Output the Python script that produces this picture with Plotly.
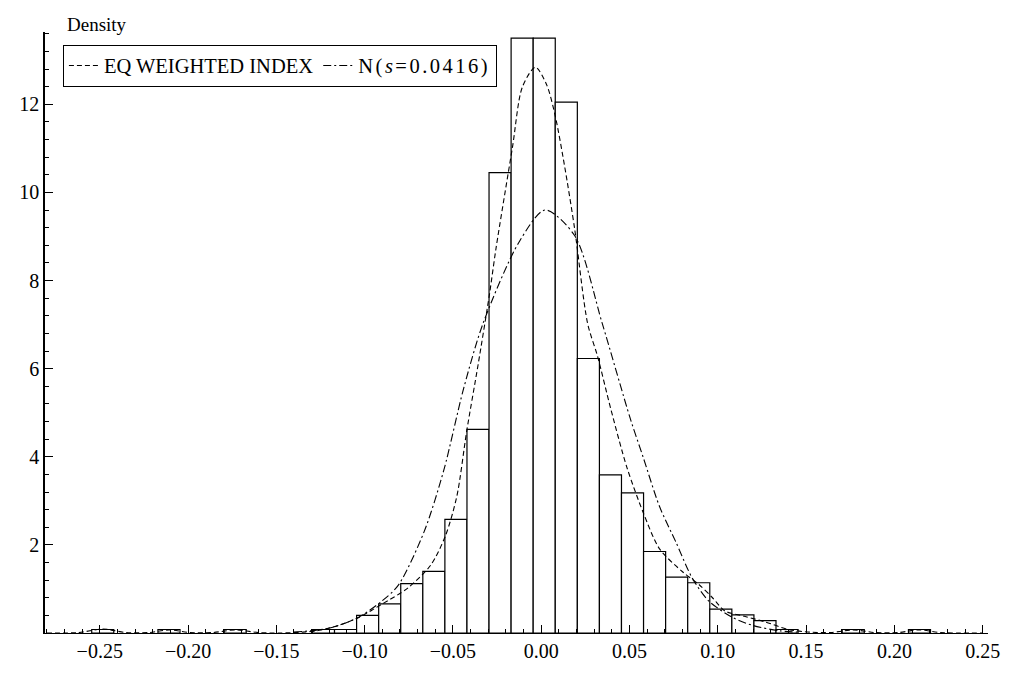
import plotly.graph_objects as go

# histogram of returns (density scale), bin width 0.0125
bin_mid = [-0.2483, -0.2108, -0.1733, -0.1233, -0.1108, -0.0983, -0.0858,
           -0.0733, -0.0608, -0.0483, -0.0358, -0.0233, -0.0108, 0.0017,
           0.0142, 0.0267, 0.0392, 0.0517, 0.0642, 0.0767, 0.0892, 0.1017,
           0.1142, 0.1267, 0.1392, 0.1767, 0.2142]
density = [0.08, 0.08, 0.08, 0.08, 0.08, 0.40, 0.66,
           1.12, 1.40, 2.58, 4.62, 10.45, 13.5, 13.5,
           12.05, 6.23, 3.59, 3.18, 1.85, 1.27, 1.14, 0.54,
           0.41, 0.28, 0.08, 0.08, 0.08]

# estimated density (kernel)
kde_x = [-0.280, -0.262, -0.2483, -0.235, -0.222, -0.2108, -0.199, -0.186,
         -0.1733, -0.160, -0.148, -0.135, -0.127, -0.115, -0.103, -0.0904,
         -0.0756, -0.0626, -0.0543, -0.0478, -0.0422, -0.0357, -0.0293,
         -0.0256, -0.0163, -0.0107, -0.0033, 0.0030, 0.0078, 0.0133, 0.0189,
         0.0263, 0.0319, 0.0393, 0.0485, 0.0578, 0.0670, 0.0800, 0.0893,
         0.0970, 0.1040, 0.1150, 0.1270, 0.1400, 0.1520, 0.1640, 0.1767,
         0.1890, 0.2020, 0.2142, 0.2260, 0.2500]
kde_y = [0.0, 0.01, 0.09, 0.01, 0.01, 0.07, 0.01, 0.01,
         0.07, 0.01, 0.0, 0.02, 0.05, 0.17, 0.36, 0.65,
         1.02, 1.54, 2.2, 3.1, 4.58, 6.1, 7.69,
         8.73, 11.02, 12.39, 12.84, 12.45, 11.76, 10.58, 9.18,
         7.02, 6.28, 5.1, 3.76, 2.73, 1.91, 1.39, 1.1,
         0.8, 0.5, 0.38, 0.25, 0.08, 0.02, 0.01, 0.07,
         0.01, 0.01, 0.07, 0.01, 0.0]

# normal reference density
norm_x = [-0.140, -0.128, -0.118, -0.1033, -0.0904, -0.081, -0.0663, -0.0552,
          -0.044, -0.033, -0.0126, 0.0022, 0.0189, 0.0346, 0.0504, 0.0578,
          0.0670, 0.0763, 0.0856, 0.0948, 0.1080, 0.1200, 0.1350, 0.1450]
norm_y = [0.02, 0.06, 0.13, 0.36, 0.72, 1.08, 2.30, 3.69,
          5.54, 7.02, 8.87, 9.60, 9.02, 7.02, 4.87, 3.98,
          2.87, 2.06, 1.24, 0.73, 0.36, 0.17, 0.05, 0.02]

serif = "Liberation Serif"

fig = go.Figure()
fig.add_trace(go.Bar(x=bin_mid, y=density, width=0.0125,
                     marker=dict(color="white", line=dict(color="black", width=1.2)),
                     showlegend=False, hoverinfo="x+y"))
fig.add_trace(go.Scatter(x=kde_x, y=kde_y, mode="lines", name="EQ WEIGHTED INDEX",
                         line=dict(color="black", width=1.1, dash="5px,3px",
                                   shape="spline", smoothing=0.8)))
fig.add_trace(go.Scatter(x=norm_x, y=norm_y, mode="lines",
                         name="<span style='letter-spacing:2.5px'>N(<i>s</i>=0.0416)</span>",
                         line=dict(color="black", width=1.1, dash="8px,3px,2px,3px",
                                   shape="spline", smoothing=0.8)))

# page body has an 8px margin, so keep the figure inside the window
fig.update_layout(
    width=1003, height=665,
    margin=dict(l=32, r=11, t=24, b=27),
    plot_bgcolor="white", paper_bgcolor="white",
    font=dict(family=serif, size=20, color="black"),
    legend=dict(x=0.019, y=0.979, xanchor="left", yanchor="top",
                orientation="h", bordercolor="black", borderwidth=1,
                bgcolor="white", font=dict(family=serif, size=20.5)),
    annotations=[dict(text="Density", xref="paper", yref="paper",
                      x=0.021, y=1.012, xanchor="left", yanchor="middle",
                      showarrow=False, font=dict(family=serif, size=19))],
)
fig.update_xaxes(range=[-0.281, 0.253], showline=True, linecolor="black", linewidth=1,
                 showgrid=False, zeroline=False, ticks="inside", ticklen=8,
                 tickcolor="black", tick0=0, dtick=0.05, tickformat=".2f",
                 ticklabeloverflow="allow",
                 minor=dict(ticks="inside", ticklen=4, tickcolor="black", dtick=0.01))
fig.update_yaxes(range=[0, 13.64], showline=True, linecolor="black", linewidth=1.5,
                 showgrid=False, zeroline=False, ticks="inside", ticklen=8,
                 tickcolor="black", tickvals=[2, 4, 6, 8, 10, 12],
                 minor=dict(ticks="inside", ticklen=4, tickcolor="black",
                            tickmode="linear", tick0=0, dtick=0.4))

fig.write_html("out.html")
